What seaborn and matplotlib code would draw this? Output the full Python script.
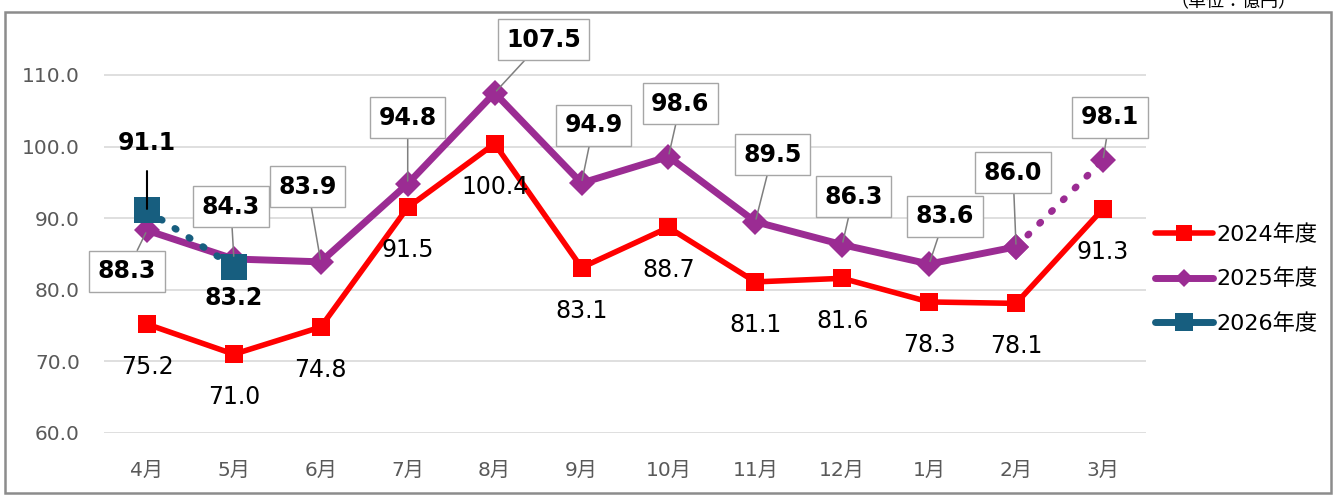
import numpy as np
import seaborn as sns
import matplotlib.pyplot as plt
from matplotlib.lines import Line2D
from matplotlib.patches import Rectangle

# Data
months = ["4月", "5月", "6月", "7月", "8月", "9月", "10月", "11月", "12月", "1月", "2月", "3月"]
fy2024 = [75.2, 71.0, 74.8, 91.5, 100.4, 83.1, 88.7, 81.1, 81.6, 78.3, 78.1, 91.3]
fy2025 = [88.3, 84.3, 83.9, 94.8, 107.5, 94.9, 98.6, 89.5, 86.3, 83.6, 86.0, 98.1]
fy2026 = [91.1, 83.2]
yticks = [60, 70, 80, 90, 100, 110]

# label offsets in pixels (dx, dy) from each point
off2025 = [(-20, -41), (-3, 52), (-13, 75), (0, 66), (49, 53), (12, 58),
           (12, 53), (17, 67), (11, 48), (16, 48), (-3, 74), (7, 43)]
off2026 = [(0, 67), (0, -31)]

RED = "#ff0000"
PURPLE = "#9b2c93"
TEAL = "#175e7f"

sns.set_style("white")
plt.rcParams["font.family"] = ["DejaVu Sans", "Noto Sans CJK JP"]
plt.rcParams["text.color"] = "black"

fig = plt.figure(figsize=(13.36, 4.97), dpi=100)
ax = fig.add_axes([0.0775, 0.1288, 0.7806, 0.7924])

x = np.arange(len(months))

# 2024
sns.lineplot(x=x, y=fy2024, color=RED, lw=4, marker="s", markersize=13,
             markeredgewidth=0, ax=ax, zorder=3)
# 2025: solid through Feb, dotted to Mar
sns.lineplot(x=x[:11], y=fy2025[:11], color=PURPLE, lw=5, marker="D", markersize=13,
             markeredgewidth=0, ax=ax, zorder=4)
sns.lineplot(x=x[10:], y=fy2025[10:], color=PURPLE, lw=5, ax=ax, zorder=4,
             linestyle=(0, (0.2, 2.2)), dash_capstyle="round", marker="D",
             markersize=13, markeredgewidth=0)
# 2026
sns.lineplot(x=x[:2], y=fy2026, color=TEAL, lw=5, ax=ax, zorder=5,
             linestyle=(0, (0.2, 2.2)), dash_capstyle="round", marker="s",
             markersize=19, markeredgewidth=0)

ax.set_xlim(-0.5, len(months) - 0.5)
ax.set_ylim(60, 115)
ax.set_yticks(yticks)
ax.set_yticklabels([f"{v:.1f}" for v in yticks])
ax.set_xticks(x)
ax.set_xticklabels(months)
ax.tick_params(axis="y", length=0, pad=17, labelsize=14.5, labelcolor="#595959")
ax.tick_params(axis="x", length=0, pad=20, labelsize=14.5, labelcolor="#595959")
ax.grid(axis="y", color="#d9d9d9", lw=1.2)
ax.grid(axis="x", visible=False)
for s in ax.spines.values():
    s.set_visible(False)
ax.set_xlabel("")
ax.set_ylabel("")

# data labels
for i, v in enumerate(fy2024):
    ax.annotate(f"{v:.1f}", (i, v), xytext=(0, -43), textcoords="offset pixels",
                ha="center", va="center", fontsize=17, color="black", zorder=6)

for i, v in enumerate(fy2025):
    ax.annotate(f"{v:.1f}", (i, v), xytext=off2025[i], textcoords="offset pixels",
                ha="center", va="center", fontsize=17, fontweight="bold", zorder=7,
                bbox=dict(boxstyle="square,pad=0.36", fc="white", ec="#a6a6a6", lw=1),
                arrowprops=dict(arrowstyle="-", color="#7f7f7f", lw=1.1,
                                shrinkA=0, shrinkB=2))

ax.annotate(f"{fy2026[0]:.1f}", (0, fy2026[0]), xytext=off2026[0], textcoords="offset pixels",
            ha="center", va="center", fontsize=17, fontweight="bold", zorder=7,
            arrowprops=dict(arrowstyle="-", color="black", lw=1.5, shrinkA=9, shrinkB=1))
ax.annotate(f"{fy2026[1]:.1f}", (1, fy2026[1]), xytext=off2026[1], textcoords="offset pixels",
            ha="center", va="center", fontsize=17, fontweight="bold", zorder=7)

# legend
handles = [
    Line2D([], [], color=RED, lw=4, marker="s", markersize=11, markeredgewidth=0),
    Line2D([], [], color=PURPLE, lw=5, marker="D", markersize=9, markeredgewidth=0,
           solid_capstyle="round"),
    Line2D([], [], color=TEAL, lw=5, marker="s", markersize=13, markeredgewidth=0,
           solid_capstyle="round"),
]
fig.legend(handles, ["2024年度", "2025年度", "2026年度"], loc="center left",
           bbox_to_anchor=(1146 / 1336, 1 - 279 / 497), frameon=False, fontsize=16,
           handlelength=2.6, handletextpad=0.15, labelspacing=1.05, borderaxespad=0)

# outer frame and unit note (partly hidden at the top edge, as in the source)
fig.patches.append(Rectangle((0.004, 0.008), 0.992, 0.968, transform=fig.transFigure,
                             fill=False, ec="#8c8c8c", lw=1.8))
fig.text(0.923, 0.995, "（単位：億円）", ha="center", va="center", fontsize=13)

fig.savefig("out.png", dpi=100)
